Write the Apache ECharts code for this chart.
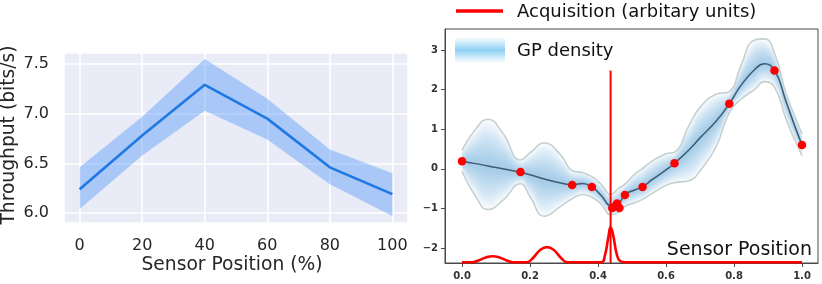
<!DOCTYPE html>
<html>
<head>
<meta charset="utf-8">
<script src="https://cdn.jsdelivr.net/npm/echarts@6/dist/echarts.min.js"></script>
<style>
html,body{margin:0;padding:0;background:#fff;}
#c{width:822px;height:284px;}
</style>
</head>
<body>
<div id="c"></div>
<script>
// ---------- Left panel data ----------
const posTicks = [0, 20, 40, 60, 80, 100];
const throughputTicks = [6.0, 6.5, 7.0, 7.5];
const sensorPos = [0, 20, 40, 60, 80, 100];
const throughputMean = [6.24, 6.78, 7.29, 6.95, 6.46, 6.19];
const throughputLow  = [6.04, 6.58, 7.03, 6.74, 6.29, 5.97];
const throughputHigh = [6.46, 6.97, 7.55, 7.15, 6.64, 6.40];

// ---------- Right panel data ----------
const gpTicksX = [0, 0.2, 0.4, 0.6, 0.8, 1.0];
const gpTicksY = [-2, -1, 0, 1, 2, 3];
const gpX     = [0, 0.04, 0.076, 0.12, 0.172, 0.2, 0.242, 0.29, 0.325, 0.355, 0.382, 0.41, 0.438, 0.46, 0.48, 0.51, 0.53, 0.56, 0.6, 0.625, 0.668, 0.7, 0.747, 0.786, 0.82, 0.86, 0.889, 0.92, 0.953, 0.98, 1.0];
const gpMean  = [0.19, 0.13, 0.07, 0.0, -0.09, -0.15, -0.26, -0.36, -0.40, -0.37, -0.46, -0.68, -0.93, -0.88, -0.65, -0.53, -0.46, -0.27, -0.03, 0.14, 0.48, 0.78, 1.2, 1.64, 2.1, 2.5, 2.65, 2.48, 1.7, 1.05, 0.6];
const gpUpper = [0.47, 1.0, 1.25, 0.9, 0.22, 0.4, 0.65, 0.35, -0.05, -0.1, -0.2, -0.4, -0.65, -0.5, -0.38, -0.12, 0.0, 0.2, 0.38, 0.42, 1.1, 1.55, 1.88, 1.95, 2.6, 3.25, 3.28, 2.9, 1.9, 1.3, 0.88];
const gpLower = [-0.07, -0.7, -1.03, -0.8, -0.38, -0.7, -1.2, -0.95, -0.75, -0.65, -0.72, -0.9, -1.16, -1.1, -0.95, -0.85, -0.78, -0.62, -0.42, -0.35, -0.3, -0.05, 0.55, 1.42, 1.75, 2.0, 2.2, 2.05, 1.25, 0.7, 0.33];
const obsX = [0.0, 0.172, 0.324, 0.382, 0.442, 0.450, 0.456, 0.463, 0.479, 0.531, 0.625, 0.786, 0.919, 1.0];
const obsY = [0.19, -0.08, -0.41, -0.46, -0.99, -0.95, -0.88, -0.99, -0.66, -0.46, 0.14, 1.64, 2.48, 0.6];
const acqX = [0, 0.03, 0.05, 0.07, 0.09, 0.11, 0.13, 0.15, 0.19, 0.21, 0.23, 0.25, 0.27, 0.29, 0.31, 0.41, 0.42, 0.43, 0.437, 0.445, 0.455, 0.465, 0.48, 1.0];
const acqY = [-2.36, -2.36, -2.31, -2.24, -2.21, -2.24, -2.31, -2.36, -2.36, -2.24, -2.05, -1.98, -2.05, -2.24, -2.36, -2.36, -2.2, -1.75, -1.48, -1.7, -2.15, -2.33, -2.36, -2.36];
const nextSampleX = [0.437, 0.437];
const nextSampleY = [2.48, -2.38];
const densityLevels = [1.0, 0.92, 0.84, 0.76, 0.68, 0.6, 0.52, 0.44, 0.36, 0.28, 0.2, 0.12];

// ECharts-like smoothing for the density band paths
function smoothSeg(pts, smooth) {
  const n = pts.length;
  const cps = [];
  for (let i = 0; i < n; i++) {
    const p = pts[i];
    const prev = pts[Math.max(0, i - 1)];
    const next = pts[Math.min(n - 1, i + 1)];
    const vx = next[0] - prev[0], vy = next[1] - prev[1];
    const l0 = Math.hypot(p[0] - prev[0], p[1] - prev[1]);
    const l1 = Math.hypot(next[0] - p[0], next[1] - p[1]);
    const r = (l0 + l1) > 0 ? l1 / (l0 + l1) : 0.5;
    let ox = p[0] + vx * smooth * r, oy = p[1] + vy * smooth * r;
    let ix = p[0] - vx * smooth * (1 - r), iy = p[1] - vy * smooth * (1 - r);
    ox = Math.min(Math.max(ox, Math.min(p[0], next[0])), Math.max(p[0], next[0]));
    oy = Math.min(Math.max(oy, Math.min(p[1], next[1])), Math.max(p[1], next[1]));
    ix = Math.min(Math.max(ix, Math.min(p[0], prev[0])), Math.max(p[0], prev[0]));
    iy = Math.min(Math.max(iy, Math.min(p[1], prev[1])), Math.max(p[1], prev[1]));
    cps.push({o: [ox, oy], i: [ix, iy]});
  }
  let d = '';
  for (let k = 0; k < n - 1; k++) {
    const a = cps[k].o, b = cps[k + 1].i, q = pts[k + 1];
    d += ` C${a[0]},${a[1]} ${b[0]},${b[1]} ${q[0]},${q[1]}`;
  }
  return d;
}

const chart = echarts.init(document.getElementById('c'), null, {renderer: 'canvas'});

const leftBand = {
  type: 'custom', xAxisIndex: 0, yAxisIndex: 0, silent: true, z: 2, clip: true,
  data: [[0, 6]],
  renderItem: function (params, api) {
    const pts = [];
    for (let i = 0; i < sensorPos.length; i++) pts.push(api.coord([sensorPos[i], throughputHigh[i]]));
    for (let i = sensorPos.length - 1; i >= 0; i--) pts.push(api.coord([sensorPos[i], throughputLow[i]]));
    return {type: 'polygon', shape: {points: pts}, style: {fill: 'rgba(92,158,249,0.45)'}};
  }
};

const density = {
  type: 'custom', xAxisIndex: 1, yAxisIndex: 1, silent: true, z: 1, clip: true,
  data: [[0, 0]],
  renderItem: function (params, api) {
    const children = [];
    densityLevels.forEach(function (f) {
      const up = gpX.map((x, i) => api.coord([x, gpMean[i] + f * (gpUpper[i] - gpMean[i])]));
      const lo = gpX.map((x, i) => api.coord([x, gpMean[i] - f * (gpMean[i] - gpLower[i])])).reverse();
      let d = `M${up[0][0]},${up[0][1]}` + smoothSeg(up, 0.5) + ` L${lo[0][0]},${lo[0][1]}` + smoothSeg(lo, 0.5) + ' Z';
      children.push({type: 'path', shape: {pathData: d}, style: {fill: 'rgba(70,165,225,0.05)'}});
    });
    return {type: 'group', children: children};
  }
};

const option = {
  animation: false,
  grid: [
    {left: 64, top: 53, width: 344, height: 170, show: true, backgroundColor: '#e9ebf6', borderWidth: 0},
    {left: 445, top: 29, width: 373, height: 234, show: true, backgroundColor: '#ffffff', borderColor: '#4a4a4a', borderWidth: 1}
  ],
  xAxis: [
    {gridIndex: 0, type: 'value', min: -5, max: 105, minInterval: 20, maxInterval: 20,
     axisLine: {show: false}, axisTick: {show: false},
     axisLabel: {customValues: posTicks, margin: 15, fontFamily: 'DejaVu Sans', fontSize: 16, color: '#262626'},
     splitLine: {show: true, lineStyle: {color: '#ffffff', width: 1.6}}},
    {gridIndex: 1, type: 'value', min: -0.05, max: 1.047, minInterval: 0.2, maxInterval: 0.2,
     axisLine: {show: true, onZero: false, lineStyle: {color: '#4a4a4a', width: 1}},
     axisTick: {show: true, customValues: gpTicksX, length: 4, lineStyle: {color: '#4a4a4a'}},
     axisLabel: {customValues: gpTicksX, formatter: v => v.toFixed(1), margin: 8, fontFamily: 'DejaVu Sans', fontSize: 10, fontWeight: 'bold', color: '#333'},
     splitLine: {show: false}}
  ],
  yAxis: [
    {gridIndex: 0, type: 'value', min: 5.9, max: 7.61, minInterval: 0.5, maxInterval: 0.5,
     axisLine: {show: false}, axisTick: {show: false},
     axisLabel: {customValues: throughputTicks, formatter: v => v.toFixed(1), margin: 15, fontFamily: 'DejaVu Sans', fontSize: 16, color: '#262626'},
     splitLine: {show: true, lineStyle: {color: '#ffffff', width: 1.6}}},
    {gridIndex: 1, type: 'value', min: -2.38, max: 3.53, minInterval: 1, maxInterval: 1,
     axisLine: {show: true, onZero: false, lineStyle: {color: '#4a4a4a', width: 1}},
     axisTick: {show: true, customValues: gpTicksY, length: 4, lineStyle: {color: '#4a4a4a'}},
     axisLabel: {customValues: gpTicksY, formatter: v => (v < 0 ? '\u2212' + Math.abs(v) : String(v)), margin: 7, fontFamily: 'DejaVu Sans', fontSize: 10, fontWeight: 'bold', color: '#333'},
     splitLine: {show: false}}
  ],
  series: [
    leftBand,
    {type: 'line', xAxisIndex: 0, yAxisIndex: 0, z: 3, symbol: 'none', silent: true,
     data: sensorPos.map((x, i) => [x, throughputMean[i]]),
     lineStyle: {color: '#1f78e4', width: 2.6}},
    density,
    {type: 'line', xAxisIndex: 1, yAxisIndex: 1, z: 3, symbol: 'none', smooth: true, silent: true,
     data: gpX.map((x, i) => [x, gpUpper[i]]), lineStyle: {color: '#c5d0cf', width: 1.6}},
    {type: 'line', xAxisIndex: 1, yAxisIndex: 1, z: 3, symbol: 'none', smooth: true, silent: true,
     data: gpX.map((x, i) => [x, gpLower[i]]), lineStyle: {color: '#c5d0cf', width: 1.6}},
    {type: 'line', xAxisIndex: 1, yAxisIndex: 1, z: 4, symbol: 'none', smooth: true, silent: true,
     data: gpX.map((x, i) => [x, gpMean[i]]), lineStyle: {color: '#3e5b71', width: 1.5}},
    {type: 'line', xAxisIndex: 1, yAxisIndex: 1, z: 5, symbol: 'none', smooth: true, silent: true,
     data: acqX.map((x, i) => [x, acqY[i]]), lineStyle: {color: '#ff0000', width: 2.6}},
    {type: 'line', xAxisIndex: 1, yAxisIndex: 1, z: 5, symbol: 'none', silent: true,
     data: nextSampleX.map((x, i) => [x, nextSampleY[i]]), lineStyle: {color: '#ff0000', width: 2}},
    {type: 'scatter', xAxisIndex: 1, yAxisIndex: 1, z: 6, symbolSize: 8.5, silent: true,
     data: obsX.map((x, i) => [x, obsY[i]]), itemStyle: {color: '#ff0000', opacity: 1}}
  ],
  graphic: [
    {type: 'text', x: 9, y: 135, rotation: Math.PI / 2,
     style: {text: 'Throughput (bits/s)', align: 'center', verticalAlign: 'middle', font: '18.7px "DejaVu Sans"', fill: '#262626'}},
    {type: 'text', x: 232, y: 265,
     style: {text: 'Sensor Position (%)', align: 'center', verticalAlign: 'middle', font: '18.7px "DejaVu Sans"', fill: '#262626'}},
    {type: 'line', shape: {x1: 456, y1: 11, x2: 503, y2: 11}, style: {stroke: '#ff0000', lineWidth: 3.5}},
    {type: 'text', x: 517, y: 12,
     style: {text: 'Acquisition (arbitary units)', align: 'left', verticalAlign: 'middle', font: '18px "DejaVu Sans"', fill: '#111'}},
    {type: 'rect', shape: {x: 455, y: 37, width: 50, height: 26}, z: 100,
     style: {fill: new echarts.graphic.LinearGradient(0, 0, 0, 1, [
       {offset: 0, color: '#ffffff'}, {offset: 0.5, color: '#8fd1f5'}, {offset: 1, color: '#ffffff'}])}},
    {type: 'text', x: 517, y: 51, z: 100,
     style: {text: 'GP density', align: 'left', verticalAlign: 'middle', font: '18px "DejaVu Sans"', fill: '#111'}},
    {type: 'text', x: 812, y: 250, z: 100,
     style: {text: 'Sensor Position', align: 'right', verticalAlign: 'middle', font: '19px "DejaVu Sans"', fill: '#111'}}
  ]
};
chart.setOption(option);
</script>
</body>
</html>
